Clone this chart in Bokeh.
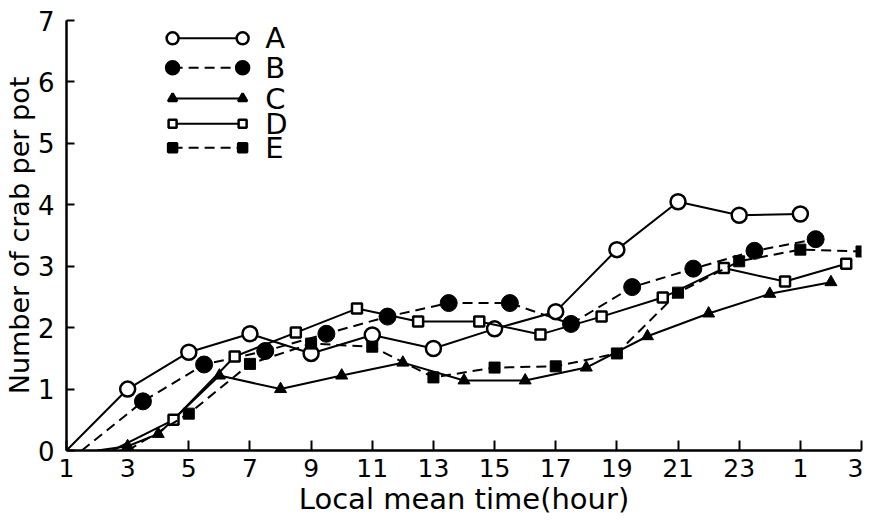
from bokeh.plotting import figure
from bokeh.models import FixedTicker
from bokeh.core.properties import value
from bokeh.embed import file_html
from bokeh.resources import INLINE

# ---- data (hours; 25 and 27 = 1 and 3 of next day) ----
a_hour = [1, 3, 5, 7, 9, 11, 13, 15, 17, 19, 21, 23, 25]
a_val = [0, 1.0, 1.6, 1.9, 1.58, 1.88, 1.66, 1.98, 2.26, 3.27, 4.05, 3.83, 3.85]

b_hour = [1.5, 3.5, 5.5, 7.5, 9.5, 11.5, 13.5, 15.5, 17.5, 19.5, 21.5, 23.5, 25.5]
b_val = [0, 0.8, 1.4, 1.62, 1.9, 2.18, 2.4, 2.4, 2.06, 2.66, 2.96, 3.25, 3.44]

c_hour = [2, 3, 4, 6, 8, 10, 12, 14, 16, 18, 20, 22, 24, 26]
c_val = [0, 0.07, 0.27, 1.22, 1.0, 1.22, 1.43, 1.14, 1.14, 1.35, 1.86, 2.23, 2.55, 2.74]

d_hour = [2.5, 4.5, 6.5, 8.5, 10.5, 12.5, 14.5, 16.5, 18.5, 20.5, 22.5, 24.5, 26.5]
d_val = [0, 0.5, 1.53, 1.92, 2.31, 2.1, 2.1, 1.89, 2.18, 2.49, 2.97, 2.75, 3.04]

e_hour = [3, 5, 7, 9, 11, 13, 15, 17, 19, 21, 23, 25, 27]
e_val = [0, 0.6, 1.41, 1.74, 1.69, 1.19, 1.35, 1.37, 1.58, 2.57, 3.08, 3.27, 3.24]

x_ticks = [1, 3, 5, 7, 9, 11, 13, 15, 17, 19, 21, 23, 25, 27]
x_tick_labels = ["1", "3", "5", "7", "9", "11", "13", "15", "17", "19", "21", "23", "1", "3"]
y_ticks = [0, 1, 2, 3, 4, 5, 6, 7]

series_names = ["A", "B", "C", "D", "E"]

FONT = "DejaVu Sans"

p = figure(width=858, height=512, x_range=(1, 27), y_range=(0, 7),
           output_backend="svg", toolbar_location=None,
           min_border_left=61, min_border_right=2, min_border_top=20, min_border_bottom=62)
p.frame_width = 795
p.frame_height = 430
p.grid.visible = False
p.outline_line_color = None
p.background_fill_color = "white"

# axes
for ax in (p.xaxis[0], p.yaxis[0]):
    ax.axis_line_width = 2.5
    ax.axis_line_color = "black"
    ax.major_tick_line_width = 2
    ax.major_tick_line_color = "black"
    ax.major_tick_out = 0
    ax.minor_tick_line_color = None
    ax.major_label_text_font = FONT
    ax.major_label_text_color = "black"
    ax.axis_label_text_font = FONT
    ax.axis_label_text_font_style = "normal"
    ax.axis_label_text_color = "black"

p.xaxis.ticker = FixedTicker(ticks=x_ticks)
p.xaxis.major_label_overrides = {t: l for t, l in zip(x_ticks, x_tick_labels)}
p.xaxis.major_tick_in = 10
p.xaxis.major_label_text_font_size = "25px"
p.xaxis.major_label_standoff = 8
p.xaxis.axis_label = "Local mean time(hour)"
p.xaxis.axis_label_text_font_size = "29px"
p.xaxis.axis_label_standoff = 2

p.yaxis.ticker = FixedTicker(ticks=y_ticks)
p.yaxis.major_tick_in = 8
p.yaxis.major_label_text_font_size = "26px"
p.yaxis.major_label_standoff = 12
p.yaxis.axis_label = "Number of crab per pot"
p.yaxis.axis_label_text_font_size = "27px"
p.yaxis.axis_label_standoff = 0

LW = 2
DASH = "10 6"

def nz(xs, ys):
    pts = [(x, y) for x, y in zip(xs, ys) if y > 0]
    return [q[0] for q in pts], [q[1] for q in pts]

# A: open circles, solid
p.line(a_hour, a_val, line_color="black", line_width=LW)
ax_, ay_ = nz(a_hour, a_val)
p.scatter(ax_, ay_, marker="circle", size=15, fill_color="white", line_color="black", line_width=2.5)

# B: filled circles, dashed
p.line(b_hour, b_val, line_color="black", line_width=LW, line_dash=DASH)
bx_, by_ = nz(b_hour, b_val)
p.scatter(bx_, by_, marker="circle", size=17, fill_color="black", line_color="black")

# C: filled triangles, solid
p.line(c_hour, c_val, line_color="black", line_width=LW)
cx_, cy_ = nz(c_hour, c_val)
p.scatter(cx_, cy_, marker="triangle", size=12, fill_color="black", line_color="black")

# D: open squares, solid
p.line(d_hour, d_val, line_color="black", line_width=LW)
dx_, dy_ = nz(d_hour, d_val)
p.scatter(dx_, dy_, marker="square", size=10, fill_color="white", line_color="black", line_width=2.5)

# E: filled squares, dashed
p.line(e_hour, e_val, line_color="black", line_width=LW, line_dash=DASH)
ex_, ey_ = nz(e_hour, e_val)
p.scatter(ex_, ey_, marker="square", size=11, fill_color="black", line_color="black")

# ---- legend (drawn in data space, top-left) ----
LEG_X0, LEG_X1, LEG_TX = 4.47, 6.76, 7.5
LEG_Y = [6.71, 6.23, 5.73, 5.32, 4.93]
leg_dash = [None, DASH, None, None, DASH]
leg_marker = ["circle", "circle", "triangle", "square", "square"]
leg_fill = ["white", "black", "black", "white", "black"]
leg_size = [12, 13, 9, 8, 9]

for i, name in enumerate(series_names):
    y = LEG_Y[i]
    kw = dict(line_color="black", line_width=LW)
    if leg_dash[i]:
        kw["line_dash"] = leg_dash[i]
    p.line([LEG_X0, LEG_X1], [y, y], **kw)
    p.scatter([LEG_X0, LEG_X1], [y, y], marker=leg_marker[i], size=leg_size[i],
              fill_color=leg_fill[i], line_color="black", line_width=2.5)

p.text(x=[LEG_TX] * 5, y=LEG_Y, text=series_names, text_font=value(FONT),
       text_font_size="29px", text_baseline="middle", text_align="left", text_color="black")

open("out.html", "w").write(file_html(p, INLINE))
